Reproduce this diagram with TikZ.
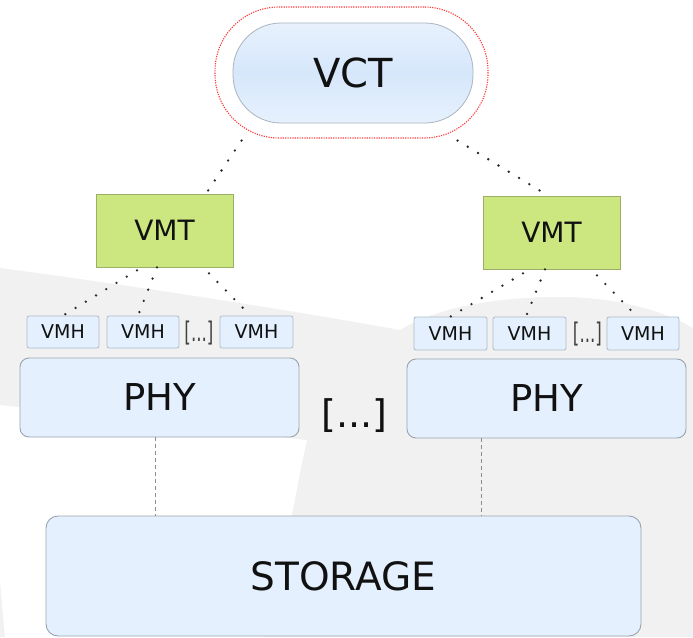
\documentclass[tikz,border=0pt]{standalone}
\usepackage{fontspec}
\setmainfont{DejaVu Sans}
\usetikzlibrary{calc}

\definecolor{bggray}{HTML}{F1F1F1}
\definecolor{boxblue}{HTML}{E4F0FD}
\definecolor{boxedge}{HTML}{9AA4AE}
\definecolor{vmhedge}{HTML}{AEBBC8}
\definecolor{vctedge}{HTML}{A9B4C0}
\definecolor{vcttop}{HTML}{E7F1FD}
\definecolor{vctmid}{HTML}{D6E7FB}
\definecolor{vmtgreen}{HTML}{CCE680}
\definecolor{vmtedge}{HTML}{9CAF66}
\definecolor{ringred}{HTML}{FF3A3A}
\definecolor{linkgray}{HTML}{8C8C8C}
\definecolor{ink}{HTML}{111111}

\newcommand{\fs}[1]{\fontsize{#1}{#1}\selectfont}

\tikzset{
  vctbox/.style={draw=vctedge, line width=0.8pt, rounded corners=48pt,
    top color=vcttop, bottom color=vcttop, middle color=vctmid,
    minimum width=240pt, minimum height=100pt, inner sep=0pt,
    text=ink, font=\fs{40}},
  ringbox/.style={draw=ringred, line width=1.1pt, dash pattern=on 1.2pt off 1.2pt,
    rounded corners=64pt, minimum width=273pt, minimum height=131pt, inner sep=0pt},
  vmtbox/.style={draw=vmtedge, fill=vmtgreen, line width=0.8pt,
    minimum width=137pt, minimum height=73pt, inner sep=0pt,
    text=ink, font=\fs{28}},
  vmhbox/.style={draw=vmhedge, fill=boxblue, line width=0.8pt, rounded corners=2pt,
    minimum width=72pt, minimum height=32pt, inner sep=0pt,
    text=ink, font=\fs{19}},
  phybox/.style={draw=boxedge, fill=boxblue, line width=0.9pt, rounded corners=9pt,
    minimum width=279pt, minimum height=79pt, inner sep=0pt,
    text=ink, font=\fs{37}},
  storebox/.style={draw=boxedge, fill=boxblue, line width=0.9pt, rounded corners=12pt,
    minimum width=595pt, minimum height=120pt, inner sep=0pt,
    text=ink, font=\fs{39}},
  smalldots/.style={inner sep=0pt, text=ink!80, font=\fs{27}, xscale=0.62},
  bigdots/.style={inner sep=0pt, text=ink, font=\fs{38}},
  dotlink/.style={draw=ink!90, line width=2.6pt, line cap=round,
    dash pattern=on 0pt off 12pt},
  dashlink/.style={draw=linkgray, line width=0.7pt, dash pattern=on 4pt off 3pt}
}

\begin{document}
\begin{tikzpicture}[x=1pt, y=-1pt]
  % canvas
  \fill[white] (0,0) rectangle (693,637);
  \useasboundingbox (0,0) rectangle (693,637);

  % grey backdrop with a raised dome on the right
  \fill[bggray] (0,268) .. controls (150,288) and (300,312) .. (400,330)
    .. controls (440,306) and (500,297) .. (560,297)
    .. controls (620,297) and (665,312) .. (693,328)
    -- (693,637) -- (0,637) -- cycle;
  % white diagonal sweep across the lower left
  \fill[white] (0,405) -- (307,440)
    .. controls (300,470) and (296,495) .. (292,515)
    .. controls (285,560) and (272,610) .. (264,637)
    -- (5,637) .. controls (3,615) and (1,595) .. (0,580) -- cycle;

  % top level
  \node[ringbox] (ring) at (351.5,72.5) {};
  \node[vctbox] (vct) at (353,73) {VCT};

  % managers
  \node[vmtbox] (vmtL) at (164.5,230.5) {VMT};
  \node[vmtbox] (vmtR) at (551.5,232.5) {VMT};

  % left host
  \node[vmhbox] (vmhL1) at (63,332) {VMH};
  \node[vmhbox] (vmhL2) at (143,332) {VMH};
  \node[smalldots] (dotsL) at (199,333) {[...]};
  \node[vmhbox, minimum width=73pt] (vmhL3) at (256.5,332) {VMH};
  \node[phybox] (phyL) at (159.5,397.5) {PHY};

  % right host
  \node[vmhbox, minimum width=73pt, minimum height=33pt] (vmhR1) at (450.5,333.5) {VMH};
  \node[vmhbox, minimum width=73pt, minimum height=33pt] (vmhR2) at (529.5,333.5) {VMH};
  \node[smalldots] (dotsR) at (587.5,334) {[...]};
  \node[vmhbox, minimum height=33pt] (vmhR3) at (643,333.5) {VMH};
  \node[phybox] (phyR) at (546.5,398.5) {PHY};

  \node[bigdots] (mid) at (354.5,415.5) {[...]};

  % shared storage
  \node[storebox] (store) at (343.5,576) {STORAGE};

  % links from the controller
  \draw[dotlink] ([xshift=-110pt,yshift=-2pt]ring.south) -- ([xshift=41.5pt]vmtL.north);
  \draw[dotlink] ([xshift=106pt,yshift=-2pt]ring.south) -- ([xshift=-3.5pt]vmtR.north);

  % links from the managers to the hypervisors
  \draw[dotlink] ([xshift=-27.5pt,yshift=-3pt]vmtL.south) -- (vmhL1.north);
  \draw[dotlink] ([xshift=-7.5pt]vmtL.south) -- ([xshift=-5pt]vmhL2.north);
  \draw[dotlink] ([xshift=44.5pt,yshift=-6pt]vmtL.south) -- ([xshift=-6pt]vmhL3.north);
  \draw[dotlink] ([xshift=-28.5pt,yshift=-4pt]vmtR.south) -- (vmhR1.north);
  \draw[dotlink] ([xshift=-6.5pt]vmtR.south) -- ([xshift=-3.5pt]vmhR2.north);
  \draw[dotlink] ([xshift=45.5pt,yshift=-6pt]vmtR.south) -- ([xshift=-6pt]vmhR3.north);

  % hosts to storage
  \coordinate (sL) at ([xshift=-4.5pt]phyL.south);
  \coordinate (sR) at ([xshift=-65.5pt]phyR.south);
  \draw[dashlink] (sL) -- (sL |- store.north);
  \draw[dashlink] (sR) -- (sR |- store.north);
\end{tikzpicture}
\end{document}
